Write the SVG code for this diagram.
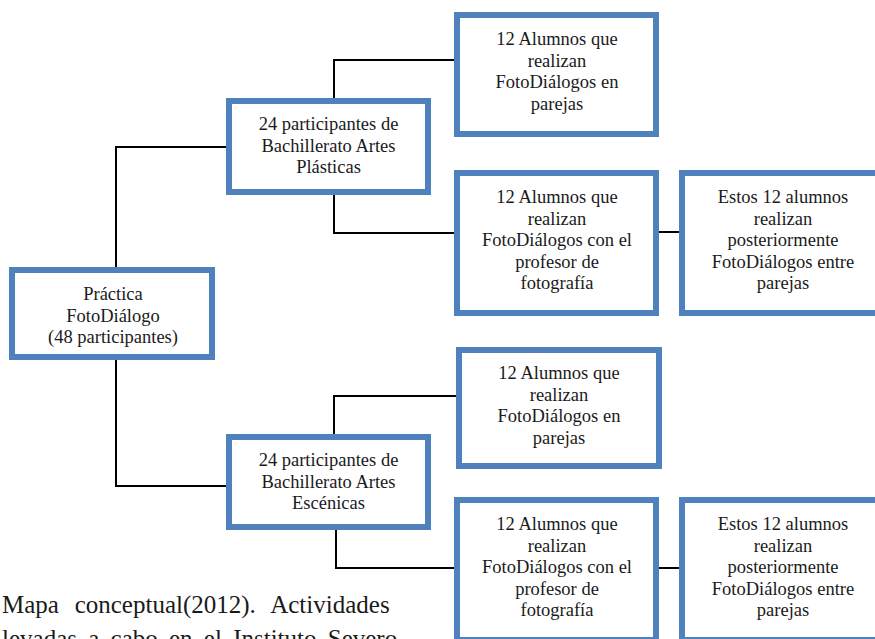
<svg xmlns="http://www.w3.org/2000/svg" width="875" height="639" viewBox="0 0 875 639">
<style>
.box{fill:#fff;stroke:#4f81bd;stroke-width:6}
.t{font-family:'Liberation Serif','Times New Roman',serif;font-size:18.5px;fill:#1a1a1a;text-anchor:middle}
.cap{font-family:'Liberation Serif','Times New Roman',serif;font-size:25px;fill:#1a1a1a}
.c{fill:none;stroke:#000;stroke-width:2}
</style>
<rect width="875" height="639" fill="#fff"/>
<g id="connectors">
<path class="c" d="M116,270 V147 H229"/>
<path class="c" d="M116,357 V486 H229"/>
<path class="c" d="M334,101 V60 H457"/>
<path class="c" d="M334,192 V233 H457"/>
<path class="c" d="M656,232 H682"/>
<path class="c" d="M334,437 V396 H459"/>
<path class="c" d="M336,527 V568 H457"/>
<path class="c" d="M656,568 H682"/>
</g>
<g id="practica">
<rect class="box" x="12" y="270" width="200" height="87"/>
<text class="t" x="113" y="300">Práctica</text>
<text class="t" x="113" y="321.5">FotoDiálogo</text>
<text class="t" x="113" y="343">(48 participantes)</text>
</g>
<g id="plasticas">
<rect class="box" x="229" y="101" width="199" height="91"/>
<text class="t" x="328.5" y="130">24 participantes de</text>
<text class="t" x="328.5" y="151.5">Bachillerato Artes</text>
<text class="t" x="328.5" y="173">Plásticas</text>
</g>
<g id="plasticas-parejas">
<rect class="box" x="457" y="15" width="199" height="119"/>
<text class="t" x="557" y="45">12 Alumnos que</text>
<text class="t" x="557" y="66.5">realizan</text>
<text class="t" x="557" y="88">FotoDiálogos en</text>
<text class="t" x="557" y="109.5">parejas</text>
</g>
<g id="plasticas-profesor">
<rect class="box" x="457" y="173" width="199" height="140"/>
<text class="t" x="557" y="203">12 Alumnos que</text>
<text class="t" x="557" y="224.5">realizan</text>
<text class="t" x="557" y="246">FotoDiálogos con el</text>
<text class="t" x="557" y="267.5">profesor de</text>
<text class="t" x="557" y="289">fotografía</text>
</g>
<g id="plasticas-posterior">
<rect class="box" x="682" y="173" width="202" height="140"/>
<text class="t" x="783" y="203">Estos 12 alumnos</text>
<text class="t" x="783" y="224.5">realizan</text>
<text class="t" x="783" y="246">posteriormente</text>
<text class="t" x="783" y="267.5">FotoDiálogos entre</text>
<text class="t" x="783" y="289">parejas</text>
</g>
<g id="escenicas">
<rect class="box" x="229" y="437" width="199" height="90"/>
<text class="t" x="328.5" y="466">24 participantes de</text>
<text class="t" x="328.5" y="487.5">Bachillerato Artes</text>
<text class="t" x="328.5" y="509">Escénicas</text>
</g>
<g id="escenicas-parejas">
<rect class="box" x="459" y="350" width="200" height="116"/>
<text class="t" x="559" y="379">12 Alumnos que</text>
<text class="t" x="559" y="400.5">realizan</text>
<text class="t" x="559" y="422">FotoDiálogos en</text>
<text class="t" x="559" y="443.5">parejas</text>
</g>
<g id="escenicas-profesor">
<rect class="box" x="457" y="500" width="199" height="140"/>
<text class="t" x="557" y="530">12 Alumnos que</text>
<text class="t" x="557" y="551.5">realizan</text>
<text class="t" x="557" y="573">FotoDiálogos con el</text>
<text class="t" x="557" y="594.5">profesor de</text>
<text class="t" x="557" y="616">fotografía</text>
</g>
<g id="escenicas-posterior">
<rect class="box" x="682" y="500" width="202" height="140"/>
<text class="t" x="783" y="530">Estos 12 alumnos</text>
<text class="t" x="783" y="551.5">realizan</text>
<text class="t" x="783" y="573">posteriormente</text>
<text class="t" x="783" y="594.5">FotoDiálogos entre</text>
<text class="t" x="783" y="616">parejas</text>
</g>
<g id="caption">
<text class="cap" x="2" y="613" word-spacing="9.5">Mapa conceptual(2012). Actividades</text>
<text class="cap" x="2" y="647" word-spacing="5">levadas a cabo en el Instituto Severo</text>
</g>
</svg>
